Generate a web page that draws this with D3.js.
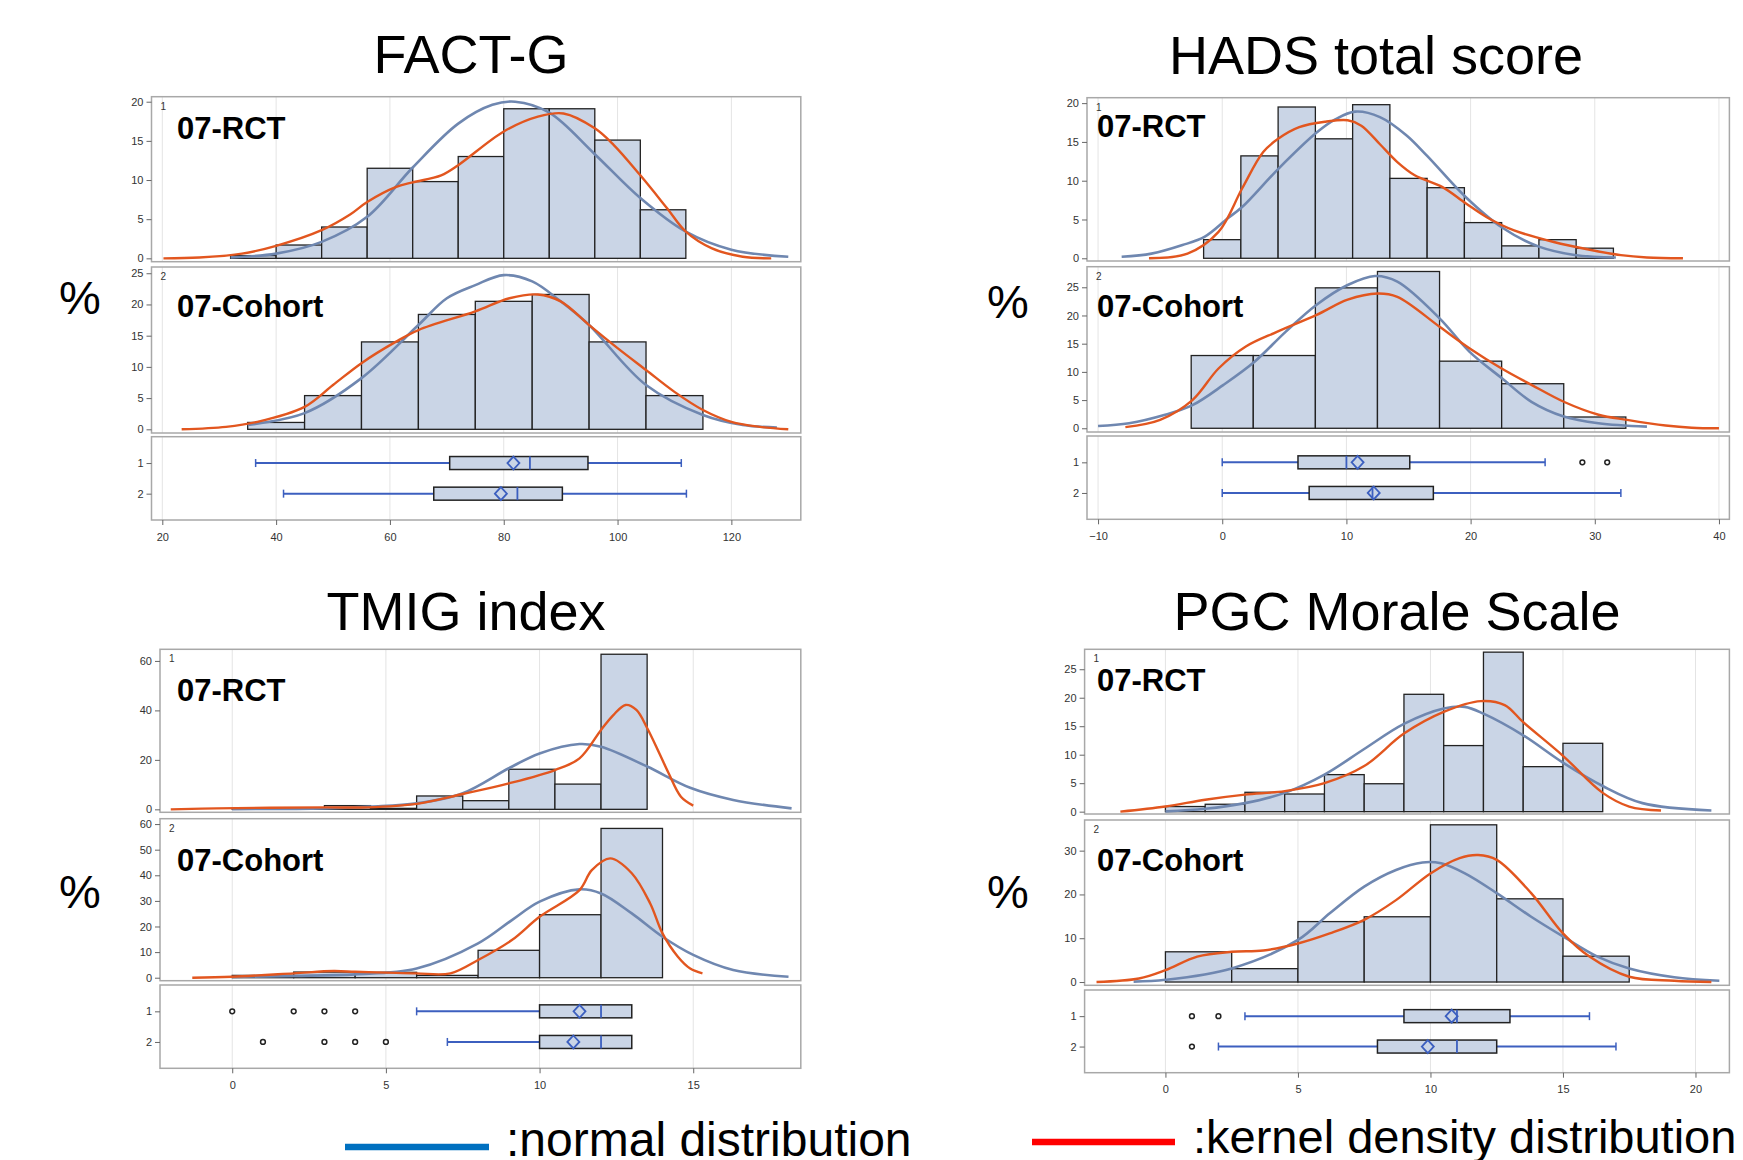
<!DOCTYPE html>
<html>
<head>
<meta charset="utf-8">
<script src="https://cdn.jsdelivr.net/npm/d3@7"></script>
<style>
body { margin: 0; background: #fff; }
svg text { font-family: "Liberation Sans", Arial, sans-serif; }
</style>
</head>
<body>
<div class="chart"></div>
<script>
// ---- FACT-G ----
const factgRctEdges = [32, 40, 48, 56, 64, 72, 80, 88, 96, 104, 112];
const factgRctPct = [0.35, 1.7, 4.0, 11.5, 9.8, 13.0, 19.1, 19.1, 15.1, 6.2];
const factgRctNormal = [[32,0.1],[40,0.6],[48,2.1],[56,5.3],[64,11.6],[72,17.2],[78,19.6],[82,20.0],[88,18.6],[96,13.3],[104,7.7],[112,3.4],[120,1.1],[130,0.2]];
const factgRctKernel = [[20.2,0],[26.5,0.1],[34,0.6],[40,1.6],[48,3.6],[53,5.6],[56,7.2],[61,9.1],[64,9.7],[69,10.6],[72,11.9],[80,16.2],[86,18.1],[90.5,18.5],[96,16.6],[99.3,14.5],[104,10.6],[108.7,6.4],[112,3.4],[116.5,1.3],[122,0.2],[127,0]];
const factgCohEdges = [35, 45, 55, 65, 75, 85, 95, 105, 115];
const factgCohPct = [1.1, 5.4, 14.0, 18.4, 20.5, 21.6, 14.0, 5.4];
const factgCohNormal = [[35,0.7],[45,2.6],[55,8.2],[65,16.7],[70,21.0],[75,23.1],[80,24.7],[85,23.7],[90,20.5],[95,16.7],[105,7.1],[115,2.3],[122,0.7],[128,0.3]];
const factgCohKernel = [[23.4,0],[31.2,0.4],[36.7,1.2],[45,3.6],[50,7.1],[55,10.6],[61,14.0],[65,15.9],[75,18.9],[81,21.0],[86,21.6],[90,20.5],[95,16.7],[100,13.0],[105,9.5],[110,6.0],[115,3.1],[120,1.2],[125,0.4],[130,0]];
const factgBox = [
  {row: '1', min: 36.4, q1: 70.5, med: 84.6, q3: 94.8, max: 111.2, mean: 81.7, out: []},
  {row: '2', min: 41.3, q1: 67.7, med: 82.4, q3: 90.3, max: 112.1, mean: 79.5, out: []}
];

// ---- HADS total score ----
const hadsRctEdges = [-1.5, 1.5, 4.5, 7.5, 10.5, 13.5, 16.5, 19.5, 22.5, 25.5, 28.5, 31.5];
const hadsRctPct = [2.4, 13.2, 19.5, 15.4, 19.8, 10.3, 9.1, 4.6, 1.6, 2.4, 1.3];
const hadsRctNormal = [[-8.1,0.2],[-5.7,0.6],[-3.2,1.7],[-1.4,2.8],[0.4,5.1],[1.6,6.6],[4.5,11.5],[7.6,16.2],[9.1,17.9],[10.7,18.9],[12.7,18.2],[14.8,15.9],[16.5,13.2],[19.6,7.9],[22.5,4.0],[25.5,1.5],[28.5,0.4],[31.7,0.1]];
const hadsRctKernel = [[-5.9,0],[-2.8,0.6],[-0.3,3.4],[1.6,9.0],[3.3,13.7],[4.5,15.4],[6.2,16.9],[8.3,17.6],[10.1,17.8],[11.2,17.1],[12.7,14.7],[14.1,12.4],[15.5,10.7],[17.7,9.2],[19.6,7.1],[21.3,5.3],[23.5,3.6],[26.7,2.1],[29.6,1.1],[32.1,0.4],[34.2,0.1],[37.1,0]];
const hadsCohEdges = [-2.5, 2.5, 7.5, 12.5, 17.5, 22.5, 27.5, 32.5];
const hadsCohPct = [12.9, 12.9, 24.9, 27.8, 11.9, 7.9, 2.0];
const hadsCohNormal = [[-10,0.4],[-7.5,0.9],[-4.6,2.4],[-2.4,4.1],[0.1,7.7],[2.6,11.8],[5.1,17.1],[7.6,21.9],[10.1,25.4],[12.3,27.0],[14.1,26.0],[17.5,19.5],[19.9,13.6],[22.5,8.9],[24.9,4.7],[27.5,2.1],[30.3,0.9],[34.2,0.3]];
const hadsCohKernel = [[-7.8,0.2],[-5,1.5],[-2.4,5.0],[-0.3,10.6],[1.9,14.5],[4.4,17.1],[7.6,20.1],[10.1,22.8],[12.5,23.9],[14.1,23.3],[17.5,18.0],[19.9,14.2],[22.5,10.6],[24.9,7.7],[27.5,4.7],[30.3,2.4],[32.6,1.5],[35.7,0.5],[37.8,0.1],[40,0]];
const hadsBox = [
  {row: '1', min: 0, q1: 6.1, med: 10.0, q3: 15.1, max: 26.0, mean: 10.9, out: [29, 31]},
  {row: '2', min: 0, q1: 7.0, med: 12.1, q3: 17.0, max: 32.1, mean: 12.2, out: []}
];

// ---- TMIG index ----
const tmigRctEdges = [0, 1.5, 3, 4.5, 6, 7.5, 9, 10.5, 12, 13.5];
const tmigRctPct = [0.4, 0.4, 1.5, 0.4, 5.4, 3.5, 16.2, 10.2, 62.7];
const tmigRctNormal = [[0,0.1],[3,0.4],[4.5,1.1],[6,2.4],[7.5,6.5],[9,16.6],[10,22.6],[11.3,26.4],[12,25.3],[13.5,17.3],[14.9,8.7],[16.3,3.8],[18.2,0.4]];
const tmigRctKernel = [[-2,0],[-0.5,0.4],[3,0.8],[4.4,0.8],[6,2.2],[7.5,6.2],[9,10.5],[10.5,15.9],[11.3,20.6],[12,32.1],[12.4,38.1],[12.8,42.2],[13.15,40.2],[13.5,32.9],[13.9,22.6],[14.2,14.6],[14.6,5.1],[15,1.5]];
const tmigCohEdges = [0, 2, 4, 6, 8, 10, 12, 14];
const tmigCohPct = [0.9, 2.2, 2.1, 0.9, 10.7, 24.6, 58.3];
const tmigCohNormal = [[0,0.3],[2,0.7],[4,1.3],[6,3.6],[8,13.4],[9.1,22.5],[10,29.7],[11.3,34.5],[12,32.9],[13,25.1],[14,16.0],[15,8.9],[16.3,3.0],[18.1,0.4]];
const tmigCohKernel = [[-1.3,0],[0,0.4],[2,1.7],[3.3,2.6],[4,2.3],[5,2.0],[6,1.7],[7.1,1.7],[8,6.9],[9.1,14.7],[10,23.8],[11.3,34.2],[11.7,42.0],[12.3,46.6],[13,40.8],[13.6,29.0],[14,17.3],[14.5,8.2],[14.9,3.6],[15.3,1.7]];
const tmigBox = [
  {row: '1', min: 6, q1: 10, med: 12, q3: 13, max: 13, mean: 11.3, out: [0, 2, 3, 4]},
  {row: '2', min: 7, q1: 10, med: 12, q3: 13, max: 13, mean: 11.1, out: [1, 3, 4, 5]}
];

// ---- PGC Morale Scale ----
const pgcRctEdges = [0, 1.5, 3, 4.5, 6, 7.5, 9, 10.5, 12, 13.5, 15, 16.5];
const pgcRctPct = [0.9, 1.3, 3.4, 3.1, 6.5, 4.9, 20.6, 11.6, 28.0, 7.9, 12.0];
const pgcRctNormal = [[0,0.05],[1.5,0.5],[3,1.5],[4.5,3.3],[6,6.5],[7.5,11.0],[9,15.4],[10.5,18.1],[11.3,18.4],[12,17.2],[13.5,13.4],[15,8.6],[16.5,4.5],[18,1.5],[20.6,0.2]];
const pgcRctKernel = [[-1.7,0],[0,0.9],[1.5,2.1],[3,3.0],[4.5,3.6],[6,5.0],[7.5,8.0],[9,13.7],[10.5,17.5],[11.9,19.4],[12.8,18.7],[13.5,15.7],[15,9.8],[16.5,3.3],[17.5,0.9],[18.7,0.2]];
const pgcCohEdges = [0, 2.5, 5, 7.5, 10, 12.5, 15, 17.5];
const pgcCohPct = [6.9, 3.05, 13.8, 14.9, 35.9, 19.0, 5.9];
const pgcCohNormal = [[-1.2,0.1],[0,0.5],[2.5,3.1],[5,9.6],[6.2,15.7],[7.5,21.8],[8.7,25.6],[9.7,27.3],[10.4,27.1],[11.3,24.8],[12.5,20.3],[13.8,14.9],[15,10.4],[16.3,5.8],[17.5,3.1],[19.2,1.1],[20.9,0.3]];
const pgcCohKernel = [[-2.6,0],[-1,0.8],[0,2.7],[1.2,5.8],[2.5,6.9],[3.7,7.2],[5,8.8],[6.2,11.1],[7.5,14.2],[8.7,18.7],[10,24.8],[11.1,28.3],[11.8,29.0],[12.5,27.9],[13.8,20.3],[15,11.1],[16,5.8],[17.5,1.2],[19.2,0.3],[20.6,0]];
const pgcBox = [
  {row: '1', min: 3, q1: 9, med: 11, q3: 13, max: 16, mean: 10.8, out: [1, 2]},
  {row: '2', min: 2, q1: 8, med: 11, q3: 12.5, max: 17, mean: 9.9, out: [1]}
];

const groupLabels = ['07-RCT', '07-Cohort'];

// layout for each chart
const charts = [
  {title: 'FACT-G', titleX: 471, titleY: 73, pctX: 80, pctY: 314,
   left: 151.5, right: 800.8, xDomain: [18.1, 132.2], xTicks: [20, 40, 60, 80, 100, 120],
   labelX: 177, box: factgBox, boxTop: 436.7, boxBottom: 520,
   panels: [
     {top: 96.7, bottom: 261.7, yDomain: [-0.43, 20.64], yTicks: [0, 5, 10, 15, 20], labelY: 139,
      edges: factgRctEdges, pct: factgRctPct, normal: factgRctNormal, kernel: factgRctKernel},
     {top: 267, bottom: 433, yDomain: [-0.59, 26.0], yTicks: [0, 5, 10, 15, 20, 25], labelY: 317,
      edges: factgCohEdges, pct: factgCohPct, normal: factgCohNormal, kernel: factgCohKernel}
   ]},
  {title: 'HADS total score', titleX: 1376, titleY: 74, pctX: 1008, pctY: 318,
   left: 1087, right: 1729.4, xDomain: [-10.89, 40.84], xTicks: [-10, 0, 10, 20, 30, 40],
   labelX: 1097, box: hadsBox, boxTop: 436, boxBottom: 519.3,
   panels: [
     {top: 97.7, bottom: 261, yDomain: [-0.35, 20.7], yTicks: [0, 5, 10, 15, 20], labelY: 137,
      edges: hadsRctEdges, pct: hadsRctPct, normal: hadsRctNormal, kernel: hadsRctKernel},
     {top: 266.7, bottom: 432, yDomain: [-0.66, 28.65], yTicks: [0, 5, 10, 15, 20, 25], labelY: 317,
      edges: hadsCohEdges, pct: hadsCohPct, normal: hadsCohNormal, kernel: hadsCohKernel}
   ]},
  {title: 'TMIG index', titleX: 466, titleY: 630, pctX: 80, pctY: 908,
   left: 160, right: 800.8, xDomain: [-2.35, 18.5], xTicks: [0, 5, 10, 15],
   labelX: 177, box: tmigBox, boxTop: 985, boxBottom: 1068.3,
   panels: [
     {top: 649.3, bottom: 812.3, yDomain: [-1.2, 64.7], yTicks: [0, 20, 40, 60], labelY: 701,
      edges: tmigRctEdges, pct: tmigRctPct, normal: tmigRctNormal, kernel: tmigRctKernel},
     {top: 818.7, bottom: 980.7, yDomain: [-1.17, 62.1], yTicks: [0, 10, 20, 30, 40, 50, 60], labelY: 871,
      edges: tmigCohEdges, pct: tmigCohPct, normal: tmigCohNormal, kernel: tmigCohKernel}
   ]},
  {title: 'PGC Morale Scale', titleX: 1397, titleY: 630, pctX: 1008, pctY: 908,
   left: 1084.6, right: 1729.4, xDomain: [-3.05, 21.28], xTicks: [0, 5, 10, 15, 20],
   labelX: 1097, box: pgcBox, boxTop: 990, boxBottom: 1072.7,
   panels: [
     {top: 649.3, bottom: 814, yDomain: [-0.41, 28.5], yTicks: [0, 5, 10, 15, 20, 25], labelY: 691,
      edges: pgcRctEdges, pct: pgcRctPct, normal: pgcRctNormal, kernel: pgcRctKernel},
     {top: 820, bottom: 985.3, yDomain: [-0.75, 37.0], yTicks: [0, 10, 20, 30], labelY: 871,
      edges: pgcCohEdges, pct: pgcCohPct, normal: pgcCohNormal, kernel: pgcCohKernel}
   ]}
];

const barFill = '#cad5e6';
const normalColor = '#6f87b0';
const kernelColor = '#e2561f';
const boxBlue = '#3c5fbf';
const frameColor = '#a8a8a8';
const gridColor = '#e4e4e4';

const svg = d3.select('.chart').append('svg')
    .attr('width', 1743)
    .attr('height', 1160);

function styleAxis(sel) {
    sel.select('.domain').remove();
    sel.selectAll('.tick line').attr('stroke', '#666');
    sel.selectAll('.tick text')
        .attr('fill', '#333')
        .attr('font-size', 11)
        .attr('font-family', '"Liberation Sans", Arial, sans-serif');
}

function drawChart(c) {
    const g = svg.append('g');
    const x = d3.scaleLinear().domain(c.xDomain).range([c.left, c.right]);

    g.append('text')
        .attr('x', c.titleX).attr('y', c.titleY)
        .attr('text-anchor', 'middle')
        .attr('font-size', 54)
        .text(c.title);

    g.append('text')
        .attr('x', c.pctX).attr('y', c.pctY)
        .attr('text-anchor', 'middle')
        .attr('font-size', 47)
        .text('%');

    const line = (y) => d3.line()
        .x(d => x(d[0]))
        .y(d => y(d[1]))
        .curve(d3.curveCatmullRom.alpha(0.5));

    c.panels.forEach((p, i) => {
        const y = d3.scaleLinear().domain(p.yDomain).range([p.bottom, p.top]);
        const pg = g.append('g');

        // vertical grid lines
        pg.selectAll('.grid').data(c.xTicks).join('line')
            .attr('x1', d => x(d)).attr('x2', d => x(d))
            .attr('y1', p.top).attr('y2', p.bottom)
            .attr('stroke', gridColor);

        // histogram bars
        const bins = p.pct.map((v, k) => ({x0: p.edges[k], x1: p.edges[k + 1], v: v}));
        pg.selectAll('.bar').data(bins).join('rect')
            .attr('x', d => x(d.x0))
            .attr('width', d => x(d.x1) - x(d.x0))
            .attr('y', d => y(d.v))
            .attr('height', d => y(0) - y(d.v))
            .attr('fill', barFill)
            .attr('stroke', '#222')
            .attr('stroke-width', 1.3);

        pg.append('path')
            .attr('d', line(y)(p.normal))
            .attr('fill', 'none')
            .attr('stroke', normalColor)
            .attr('stroke-width', 2.6);

        pg.append('path')
            .attr('d', line(y)(p.kernel))
            .attr('fill', 'none')
            .attr('stroke', kernelColor)
            .attr('stroke-width', 2.4);

        pg.append('rect')
            .attr('x', c.left).attr('y', p.top)
            .attr('width', c.right - c.left)
            .attr('height', p.bottom - p.top)
            .attr('fill', 'none')
            .attr('stroke', frameColor)
            .attr('stroke-width', 1.5);

        pg.append('g')
            .attr('transform', `translate(${c.left},0)`)
            .call(d3.axisLeft(y).tickValues(p.yTicks).tickSize(5).tickPadding(3))
            .call(styleAxis);

        pg.append('text')
            .attr('x', c.left + 9).attr('y', p.top + 13)
            .attr('font-size', 10)
            .attr('fill', '#333')
            .text(i + 1);

        pg.append('text')
            .attr('x', c.labelX).attr('y', p.labelY)
            .attr('font-size', 31)
            .attr('font-weight', 'bold')
            .text(groupLabels[i]);
    });

    // box plot panel
    const yb = d3.scalePoint().domain(c.box.map(d => d.row))
        .range([c.boxTop, c.boxBottom]).padding(0.86);
    const bg = g.append('g');

    bg.selectAll('.grid').data(c.xTicks).join('line')
        .attr('x1', d => x(d)).attr('x2', d => x(d))
        .attr('y1', c.boxTop).attr('y2', c.boxBottom)
        .attr('stroke', gridColor);

    const rows = bg.selectAll('.row').data(c.box).join('g')
        .attr('transform', d => `translate(0,${yb(d.row)})`);

    rows.append('line')
        .attr('x1', d => x(d.min)).attr('x2', d => x(d.q1))
        .attr('stroke', boxBlue).attr('stroke-width', 2);
    rows.append('line')
        .attr('x1', d => x(d.q3)).attr('x2', d => x(d.max))
        .attr('stroke', boxBlue).attr('stroke-width', 2);
    rows.filter(d => d.min < d.q1).append('line')
        .attr('x1', d => x(d.min)).attr('x2', d => x(d.min))
        .attr('y1', -4).attr('y2', 4)
        .attr('stroke', boxBlue).attr('stroke-width', 1.5);
    rows.filter(d => d.max > d.q3).append('line')
        .attr('x1', d => x(d.max)).attr('x2', d => x(d.max))
        .attr('y1', -4).attr('y2', 4)
        .attr('stroke', boxBlue).attr('stroke-width', 1.5);
    rows.append('rect')
        .attr('x', d => x(d.q1))
        .attr('width', d => x(d.q3) - x(d.q1))
        .attr('y', -6.5).attr('height', 13)
        .attr('fill', barFill)
        .attr('stroke', '#222').attr('stroke-width', 1.5);
    rows.append('line')
        .attr('x1', d => x(d.med)).attr('x2', d => x(d.med))
        .attr('y1', -6.5).attr('y2', 6.5)
        .attr('stroke', boxBlue).attr('stroke-width', 1.8);
    rows.append('path')
        .attr('d', d => `M${x(d.mean) - 6},0L${x(d.mean)},-6.5L${x(d.mean) + 6},0L${x(d.mean)},6.5Z`)
        .attr('fill', 'none')
        .attr('stroke', boxBlue).attr('stroke-width', 1.8);
    rows.selectAll('.out').data(d => d.out).join('circle')
        .attr('cx', d => x(d)).attr('cy', 0).attr('r', 2.4)
        .attr('fill', '#fff')
        .attr('stroke', '#222').attr('stroke-width', 1.5);

    bg.append('rect')
        .attr('x', c.left).attr('y', c.boxTop)
        .attr('width', c.right - c.left)
        .attr('height', c.boxBottom - c.boxTop)
        .attr('fill', 'none')
        .attr('stroke', frameColor)
        .attr('stroke-width', 1.5);

    bg.append('g')
        .attr('transform', `translate(${c.left},0)`)
        .call(d3.axisLeft(yb).tickSize(5).tickPadding(3))
        .call(styleAxis);

    bg.append('g')
        .attr('transform', `translate(0,${c.boxBottom})`)
        .call(d3.axisBottom(x).tickValues(c.xTicks).tickSize(5).tickPadding(8))
        .call(styleAxis);
}

charts.forEach(drawChart);

// legend
const legend = svg.append('g');
legend.append('line')
    .attr('x1', 345).attr('x2', 489).attr('y1', 1147).attr('y2', 1147)
    .attr('stroke', '#0070c0').attr('stroke-width', 6.5);
legend.append('text')
    .attr('x', 506).attr('y', 1156)
    .attr('font-size', 48)
    .text(':normal distribution');
legend.append('line')
    .attr('x1', 1032).attr('x2', 1175).attr('y1', 1142).attr('y2', 1142)
    .attr('stroke', '#ff0000').attr('stroke-width', 6.5);
legend.append('text')
    .attr('x', 1193).attr('y', 1153)
    .attr('font-size', 47)
    .text(':kernel density distribution');
</script>
</body>
</html>
